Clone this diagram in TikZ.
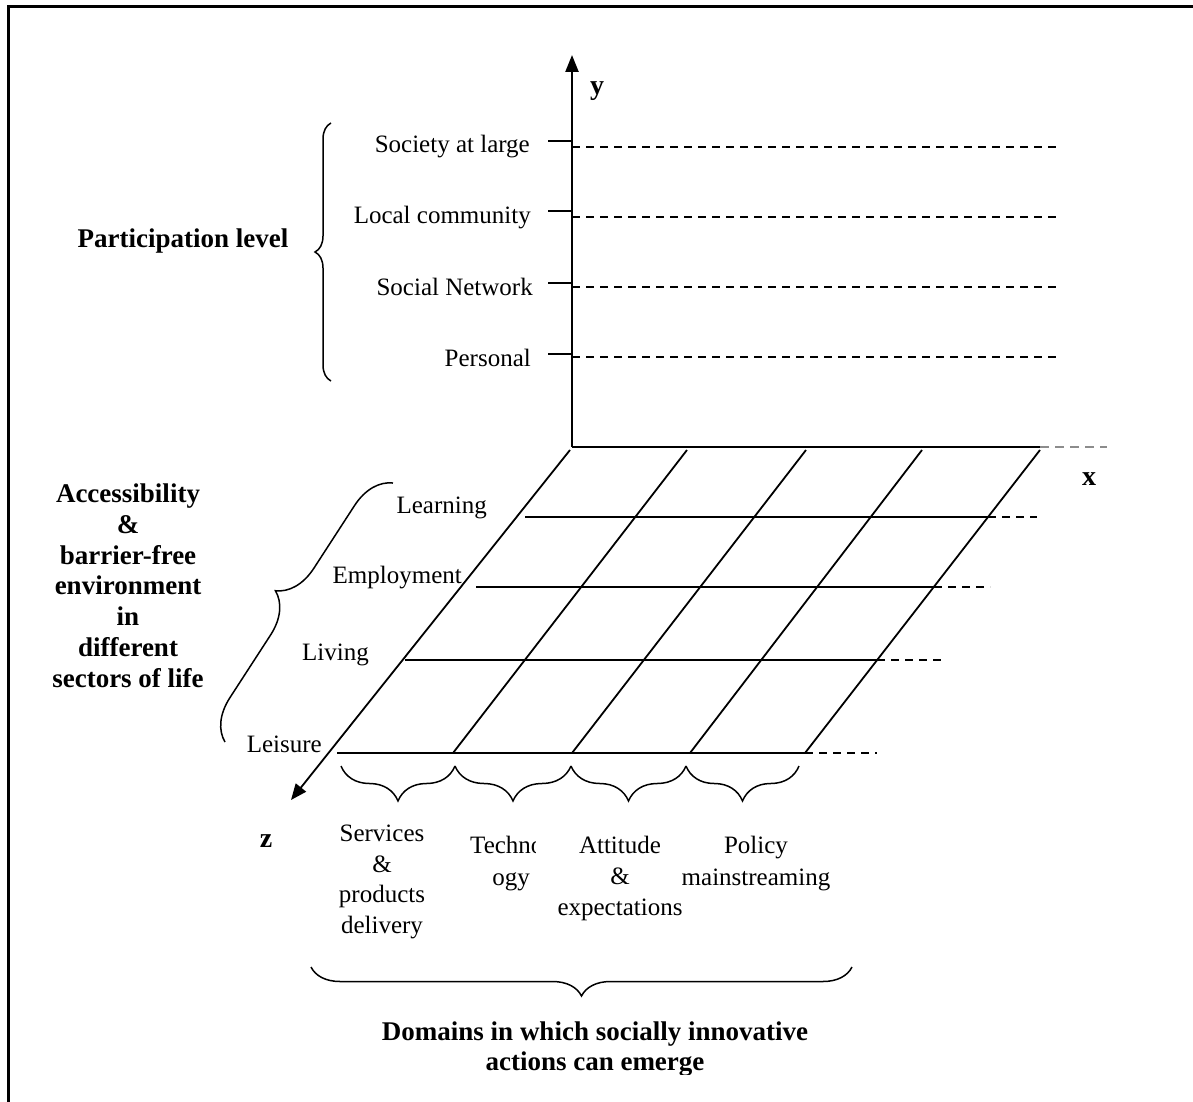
\documentclass[tikz,border=0pt]{standalone}
\usepackage{fontspec}
\setmainfont{Liberation Serif}
\usetikzlibrary{arrows.meta,decorations.pathreplacing}
\begin{document}
\begin{tikzpicture}[x=1pt,y=-1pt,
  lbl/.style={font=\fontsize{25}{30}\selectfont, inner sep=0pt},
  ttl/.style={font=\fontsize{27}{30.7}\selectfont\bfseries, align=center, inner sep=0pt},
  blk/.style={font=\fontsize{25}{30.5}\selectfont, align=center, inner sep=0pt},
  axislbl/.style={font=\fontsize{28}{30}\selectfont\bfseries, inner sep=0pt},
  axis/.style={line width=2.4pt},
  gridline/.style={line width=1.8pt},
  dashline/.style={line width=1.6pt, dash pattern=on 8pt off 6pt},
  faintdash/.style={line width=1.2pt, black!45, dash pattern=on 9pt off 6pt},
  tickmark/.style={line width=1.8pt},
  brc/.style={decorate, decoration={brace, amplitude=#1}, line width=1.5pt},
]
\useasboundingbox (0,0) rectangle (1193,1102);

% outer frame (top and left edges)
\draw[line width=3pt] (8,1102) -- (8,7) -- (1194,7);

% ---------- axes ----------
\coordinate (O)  at (572,447);
\coordinate (Ytip) at (572,55);
\coordinate (Xend) at (1040,447);
\coordinate (Xfade) at (1107,447);
\coordinate (Zstart) at (570,450);
\coordinate (Ztip) at (291,800);

\draw[axis,-{Triangle[length=17pt,width=13pt]}] (O) -- (Ytip);
\draw[axis] (O) -- (Xend);
\draw[faintdash] (Xend) -- (Xfade);
\draw[gridline,-{Triangle[length=16pt,width=13pt]}] (Zstart) -- (Ztip);

\node[axislbl, anchor=base] (ylab) at (597,95) {y};
\node[axislbl, anchor=base] (xlab) at (1089,485) {x};
\node[axislbl, anchor=base] (zlab) at (266,847) {z};

% ---------- participation levels on the y axis ----------
\foreach \name/\txt/\ty/\dy/\bx in {soc/Society at large/141/147/530,
                                     loc/Local community/211/217/531,
                                     net/Social Network/283/287/533,
                                     per/Personal/354/357/531}{
  \coordinate (\name-t) at (548,\ty);
  \coordinate (\name-a) at (572,\ty);
  \coordinate (\name-d0) at (572,\dy);
  \coordinate (\name-d1) at (1057,\dy);
  \draw[tickmark] (\name-t) -- (\name-a);
  \draw[dashline] (\name-d0) -- (\name-d1);
  \node[lbl, anchor=base east] (\name) at (\bx,\ty+12) {\txt};
}

\coordinate (pb-bot) at (331,381);
\coordinate (pb-top) at (331,123);
\draw[brc=16pt] (pb-bot) -- (pb-top);
\node[ttl, anchor=base] (partlevel) at (183,247) {Participation level};

% ---------- floor grid ----------
\foreach \i/\tx/\bx in {1/687/453, 2/806/572, 3/922/690, 4/1040/805}{
  \coordinate (T\i) at (\tx,450);
  \coordinate (B\i) at (\bx,753);
  \draw[gridline] (T\i) -- (B\i);
}

\foreach \name/\yy/\lx/\rx/\dx in {learn/517/525/988/1037,
                                   empl/587/476/934/990,
                                   live/660/405/877/943,
                                   leis/753/337/805/877}{
  \coordinate (\name-l) at (\lx,\yy);
  \coordinate (\name-r) at (\rx,\yy);
  \coordinate (\name-e) at (\dx,\yy);
  \draw[gridline] (\name-l) -- (\name-r);
  \draw[dashline] (\name-r) -- (\name-e);
}

\node[lbl, anchor=base east] (learning)   at (487,513) {Learning};
\node[lbl, anchor=base east] (employment) at (462,583) {Employment};
\node[lbl, anchor=base east] (living)     at (369,660) {Living};
\node[lbl, anchor=base east] (leisure)    at (322,752) {Leisure};

\coordinate (ab-bot) at (225,742);
\coordinate (ab-top) at (393,483);
\draw[brc=40pt] (ab-bot) -- (ab-top);
% multi-line nodes: the base anchor sits on the last line
\node[ttl, anchor=base] (access) at (128,687)
  {Accessibility\\\&\\barrier-free\\environment\\in\\different\\sectors of life};

% ---------- domains under the floor ----------
\foreach \name/\ra/\rb in {d1/455/341, d2/571/455, d3/686/571, d4/799/686}{
  \coordinate (\name-a) at (\ra,766);
  \coordinate (\name-b) at (\rb,766);
  \draw[brc=35pt] (\name-a) -- (\name-b);
}

\node[blk, anchor=base] (services) at (382,933) {Services\\\&\\products\\delivery};
% the text box of this label is narrower than the word
\begin{scope}
  \clip (455,815) rectangle (535,900);
  \node[blk, anchor=base west] (techno) at (470,853) {Techno};
\end{scope}
\node[blk, anchor=base] (ogy) at (511,885) {ogy};
\node[blk, font=\fontsize{25}{31}\selectfont, anchor=base] (attitude) at (620,915)
  {Attitude\\\&\\expectations};
\node[blk, font=\fontsize{25}{32}\selectfont, anchor=base] (policy) at (756,885)
  {Policy\\mainstreaming};

\coordinate (db-a) at (852,967);
\coordinate (db-b) at (311,967);
\draw[brc=29pt] (db-a) -- (db-b);

\begin{scope}
  \clip (0,0) rectangle (1193,1074);
  \node[ttl, font=\fontsize{27}{30}\selectfont\bfseries, anchor=base] (domains) at (595,1070)
    {Domains in which socially innovative\\actions can emerge};
\end{scope}
\end{tikzpicture}
\end{document}
